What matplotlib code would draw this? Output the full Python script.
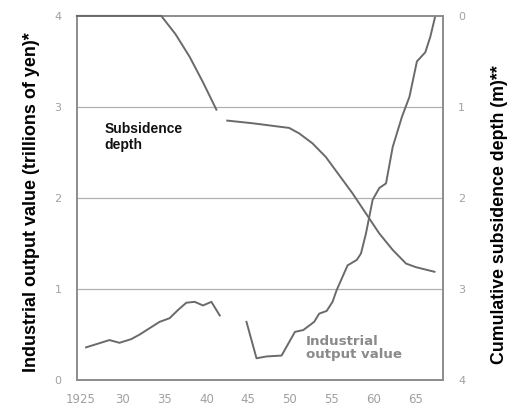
import matplotlib.pyplot as plt

# industrial output value (trillions of yen), left axis
output_years_a = [1925.6, 1927.0, 1928.4, 1929.6, 1931.0, 1932.0, 1933.2, 1934.4,
                  1935.6, 1936.6, 1937.6, 1938.6, 1939.6, 1940.6, 1941.6]
output_vals_a = [0.36, 0.40, 0.44, 0.41, 0.45, 0.50, 0.57, 0.64,
                 0.68, 0.77, 0.85, 0.86, 0.82, 0.86, 0.71]

output_years_b = [1944.8, 1946.0, 1947.2, 1949.0, 1950.6, 1951.6, 1952.9, 1953.5,
                  1954.4, 1955.1, 1955.6, 1956.9, 1958.0, 1958.5, 1959.1, 1959.9,
                  1960.7, 1961.5, 1962.3, 1963.4, 1964.3, 1965.2, 1966.2, 1966.8, 1967.4]
output_vals_b = [0.64, 0.24, 0.26, 0.27, 0.53, 0.55, 0.64, 0.73,
                 0.76, 0.86, 0.99, 1.26, 1.32, 1.39, 1.61, 1.98,
                 2.11, 2.16, 2.56, 2.89, 3.11, 3.50, 3.60, 3.77, 4.00]

# cumulative subsidence depth (m), right axis (inverted)
subs_years_a = [1924.5, 1934.6, 1936.3, 1938.0, 1939.6, 1941.2]
subs_depth_a = [0.0, 0.0, 0.20, 0.45, 0.73, 1.03]

subs_years_b = [1942.5, 1945.6, 1949.0, 1949.9, 1951.1, 1952.7, 1954.3, 1955.9,
                1957.5, 1959.1, 1960.7, 1962.3, 1963.9, 1965.1, 1967.3]
subs_depth_b = [1.15, 1.18, 1.22, 1.23, 1.29, 1.40, 1.55, 1.75,
                1.95, 2.17, 2.39, 2.57, 2.72, 2.76, 2.81]

x_ticks = [1925, 1930, 1935, 1940, 1945, 1950, 1955, 1960, 1965]
x_labels = ["1925", "30", "35", "40", "45", "50", "55", "60", "65"]
y_ticks = [0, 1, 2, 3, 4]

line_col = "#6a6a6a"
frame_col = "#8c8c8c"
tick_col = "#a0a0a0"

plt.rcParams['font.family'] = ['Liberation Sans', 'DejaVu Sans']

fig = plt.figure(figsize=(5.09, 4.07), dpi=100)
ax = fig.add_axes([0.151, 0.066, 0.719, 0.895])
ax2 = ax.twinx()

ax.set_xlim(1924.5, 1968.3)
ax.set_ylim(0, 4)
ax2.set_ylim(4, 0)

for y in [1, 2, 3]:
    ax.axhline(y, color="#b0b0b0", lw=0.9, zorder=1)

ax.plot(output_years_a, output_vals_a, color=line_col, lw=1.4, zorder=3)
ax.plot(output_years_b, output_vals_b, color=line_col, lw=1.4, zorder=3)
ax2.plot(subs_years_a, subs_depth_a, color=line_col, lw=1.4, zorder=3, clip_on=False)
ax2.plot(subs_years_b, subs_depth_b, color=line_col, lw=1.4, zorder=3)

for a in (ax, ax2):
    for s in a.spines.values():
        s.set_color(frame_col)
        s.set_linewidth(1.2)

ax.set_xticks(x_ticks)
ax.set_xticklabels(x_labels, family="DejaVu Sans")
ax.set_yticks(y_ticks)
ax.set_yticklabels([str(v) for v in y_ticks], family="DejaVu Sans")
ax2.set_yticks(y_ticks)
ax2.set_yticklabels([str(v) for v in y_ticks], family="DejaVu Sans")

ax.tick_params(axis="x", length=0, pad=9, labelsize=8.5, labelcolor=tick_col)
ax.tick_params(axis="y", length=0, pad=11, labelsize=8, labelcolor=tick_col)
ax2.tick_params(axis="y", length=0, pad=11, labelsize=8, labelcolor=tick_col)

# axis titles placed directly to match the original layout
fig.text(0.061, 0.504, "Industrial output value (trillions of yen)*", fontsize=13,
         fontweight="bold", rotation=90, ha="center", va="center")
fig.text(0.981, 0.472, "Cumulative subsidence depth (m)**", fontsize=12.8,
         fontweight="bold", rotation=90, ha="center", va="center")

ax.text(1927.8, 2.83, "Subsidence\ndepth", fontsize=10, fontweight="bold",
        va="top", ha="left", linespacing=1.15, color="#111111")
ax.text(1951.9, 0.50, "Industrial\noutput value", fontsize=9.6, fontweight="bold",
        family="DejaVu Sans", va="top", ha="left", linespacing=1.0, color="#8a8a8a")

fig.savefig("out.png", dpi=100)
